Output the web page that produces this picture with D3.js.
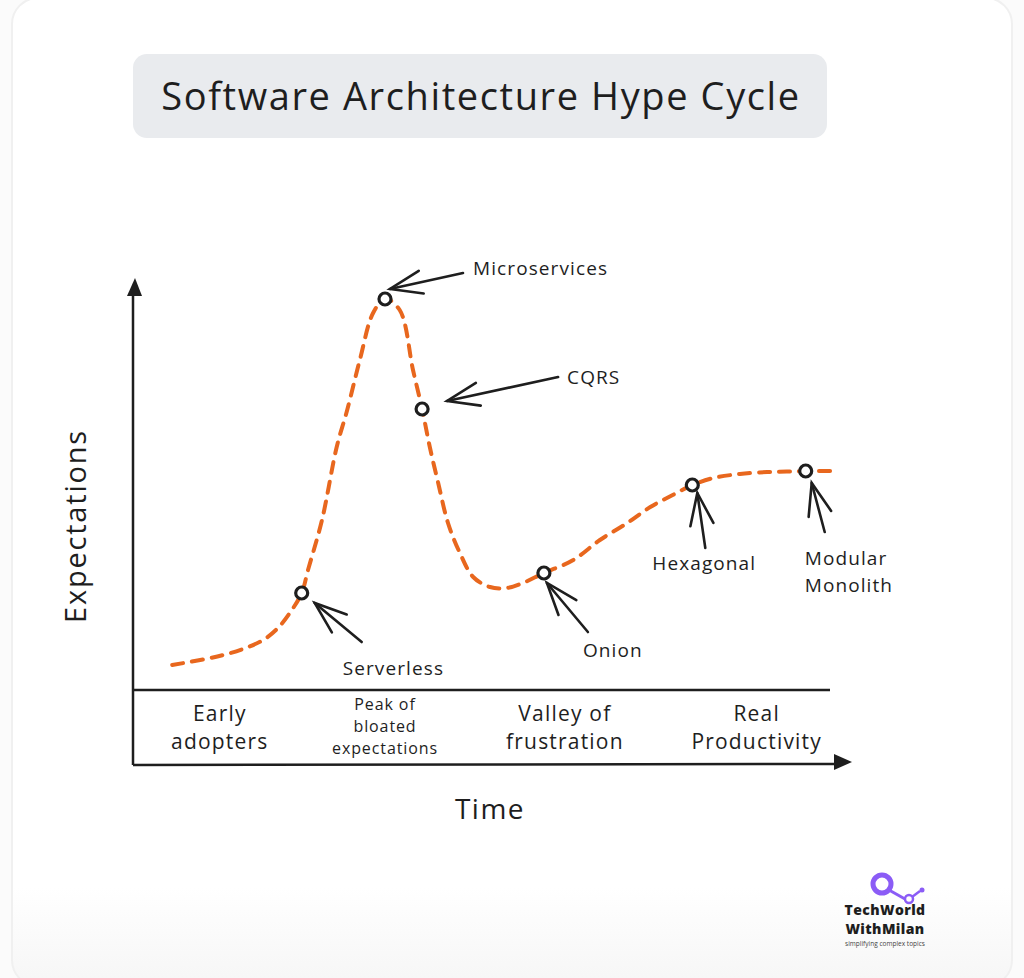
<!DOCTYPE html>
<html>
<head>
<meta charset="utf-8">
<script src="https://cdn.jsdelivr.net/npm/d3@7"></script>
<style>
  html, body { margin: 0; padding: 0; background: #fbfbfb; }
  svg { display: block; }
  text { font-family: "Open Sans", "Noto Sans", sans-serif; fill: #1e1e1e; }
</style>
</head>
<body>
<svg id="chart" width="1024" height="978"></svg>
<script>
// ---------------- data ----------------
const chartTitle = "Software Architecture Hype Cycle";
const xAxisTitle = "Time";
const yAxisTitle = "Expectations";

// hype curve (time 0..100, expectations 0..100)
const curveTime = [5.6, 9.6, 12.9, 15.7, 18.6, 20.7, 22.4, 24.1, 25, 27, 29.1, 30.6, 32.4, 34.3, 36,
  38.1, 40, 41.3, 42.4, 43.6, 45, 46.7, 48.6, 51, 53.4, 55.7, 58.7, 62.9, 66.7, 70.6, 73.9, 77.1,
  79.9, 82.9, 86.7, 90.6, 93.4, 96.1, 99.9];
const curveExpect = [6.25, 7.5, 8.75, 10.25, 12.5, 15.5, 19.25, 24.25, 30, 42.5, 60.75, 70, 82.5, 94.25, 97.75,
  95, 80, 70.25, 60.75, 51.75, 41.75, 34.25, 28.25, 25.75, 25.5, 26.75, 29.25, 32.5, 37.5, 41.75, 45.75, 48.75,
  51.25, 53, 54, 54.5, 54.6, 54.75, 54.75];

// labelled architectures on the curve
const markerLabels = ["Serverless", "Microservices", "CQRS", "Onion", "Hexagonal", "Modular\nMonolith"];
const markerTime   = [24.1, 36, 41.3, 58.7, 79.9, 96.1];
const markerExpect = [24.25, 97.75, 70.25, 29.25, 51.25, 54.75];

// phases along the time axis
const phaseLabels = ["Early\nadopters", "Peak of\nbloated\nexpectations", "Valley of\nfrustration", "Real\nProductivity"];
const phaseCenters = [12.4, 36, 61.7, 89.1];

// ---------------- layout ----------------
const svg = d3.select("#chart");
const W = 1024, H = 978;
const plot = { left: 133, right: 833, top: 290, bandTop: 690, bottom: 765 };

const x = d3.scaleLinear().domain([0, 100]).range([plot.left, plot.right]);
const y = d3.scaleLinear().domain([0, 100]).range([plot.bandTop, plot.top]);

// annotation geometry relative to each marker (pixels): tip, tail, label anchor
const annot = [
  { tip: [13, 10], tail: [60, 49], label: [41, 82] },
  { tip: [5, -10], tail: [78, -26], label: [88, -24] },
  { tip: [25, -8], tail: [136, -32], label: [145, -25] },
  { tip: [3, 10], tail: [44, 59], label: [39, 84] },
  { tip: [5, 8], tail: [13, 63], label: [-40, 85] },
  { tip: [6, 12], tail: [19, 61], label: [-1, 94] }
];

// ---------------- background card ----------------
const defs = svg.append("defs");
const grad = defs.append("linearGradient").attr("id", "cardGrad").attr("x1", 0).attr("y1", 0).attr("x2", 0).attr("y2", 1);
grad.append("stop").attr("offset", "0.9").attr("stop-color", "#ffffff");
grad.append("stop").attr("offset", "1").attr("stop-color", "#f6f6f6");
svg.append("rect").attr("x", 0).attr("y", 0).attr("width", W).attr("height", H).attr("fill", "#fbfbfb");
svg.append("rect").attr("x", 12).attr("y", -2).attr("width", 1000).attr("height", H + 10)
  .attr("rx", 26).attr("fill", "url(#cardGrad)").attr("stroke", "#f0f0f0").attr("stroke-width", 2);

// ---------------- title ----------------
svg.append("rect").attr("x", 133).attr("y", 54).attr("width", 694).attr("height", 84)
  .attr("rx", 14).attr("fill", "#e9ebee");
svg.append("text").attr("x", 481).attr("y", 110).attr("text-anchor", "middle")
  .attr("font-size", 38).attr("letter-spacing", 1.6).text(chartTitle);

// ---------------- axes ----------------
const axisColor = "#1e1e1e";
const axes = svg.append("g").attr("stroke", axisColor).attr("stroke-width", 2.5).attr("fill", "none");
// y axis
axes.append("line").attr("x1", plot.left).attr("y1", plot.bottom).attr("x2", plot.left).attr("y2", 290);
svg.append("path").attr("d", d3.line()([[plot.left + 2, 278], [plot.left - 6, 296], [plot.left + 9, 296]]) + "Z")
  .attr("fill", axisColor);
// x axis
axes.append("line").attr("x1", plot.left).attr("y1", plot.bottom).attr("x2", 840).attr("y2", plot.bottom - 1);
svg.append("path").attr("d", d3.line()([[852, plot.bottom - 3], [834, plot.bottom - 11], [834, plot.bottom + 5]]) + "Z")
  .attr("fill", axisColor);
// phase band line
axes.append("line").attr("x1", plot.left).attr("y1", plot.bandTop).attr("x2", 830).attr("y2", plot.bandTop);

// phase labels
const phaseG = svg.append("g");
phaseLabels.forEach((lab, i) => {
  const lines = lab.split("\n");
  const small = lines.length > 2;
  const fs = small ? 16 : 21;
  const lh = small ? 22 : 28;
  const y0 = small ? 710 : 721;
  const t = phaseG.append("text").attr("text-anchor", "middle").attr("font-size", fs)
    .attr("letter-spacing", small ? 0.9 : 1.2);
  lines.forEach((ln, j) => {
    t.append("tspan").attr("x", x(phaseCenters[i])).attr("y", y0 + j * lh).text(ln);
  });
});

// axis titles
svg.append("text").attr("x", 490).attr("y", 819).attr("text-anchor", "middle")
  .attr("font-size", 28).attr("letter-spacing", 1.5).text(xAxisTitle);
svg.append("text").attr("transform", "translate(86,526) rotate(-90)").attr("text-anchor", "middle")
  .attr("font-size", 29).attr("letter-spacing", 1.8).text(yAxisTitle);

// ---------------- hype curve ----------------
const pts = curveTime.map((t, i) => [x(t), y(curveExpect[i])]);
svg.append("path")
  .attr("d", d3.line().curve(d3.curveCatmullRom.alpha(0.5))(pts))
  .attr("fill", "none").attr("stroke", "#e8671e").attr("stroke-width", 4)
  .attr("stroke-dasharray", "11 9").attr("stroke-linecap", "round");

// ---------------- annotations ----------------
const annG = svg.append("g");
markerLabels.forEach((lab, i) => {
  const mx = x(markerTime[i]), my = y(markerExpect[i]);
  const a = annot[i];
  const tip = [mx + a.tip[0], my + a.tip[1]];
  const tail = [mx + a.tail[0], my + a.tail[1]];
  const ang = Math.atan2(tail[1] - tip[1], tail[0] - tip[0]);
  const hl = 34, spread = 20 * Math.PI / 180;
  const h1 = [tip[0] + hl * Math.cos(ang - spread), tip[1] + hl * Math.sin(ang - spread)];
  const h2 = [tip[0] + hl * Math.cos(ang + spread), tip[1] + hl * Math.sin(ang + spread)];
  const g = annG.append("g").attr("stroke", "#1e1e1e").attr("stroke-width", 2.6)
    .attr("stroke-linecap", "round").attr("fill", "none");
  g.append("path").attr("d", d3.line()([tail, tip]));
  g.append("path").attr("d", d3.line()([h1, tip, h2]));

  const lines = lab.split("\n");
  const t = annG.append("text").attr("font-size", 19).attr("letter-spacing", 1.1);
  lines.forEach((ln, j) => {
    t.append("tspan").attr("x", mx + a.label[0]).attr("y", my + a.label[1] + j * 27).text(ln);
  });
});

// markers
svg.append("g").selectAll("circle").data(markerTime).join("circle")
  .attr("cx", d => x(d)).attr("cy", (d, i) => y(markerExpect[i])).attr("r", 6)
  .attr("fill", "#ffffff").attr("stroke", "#1e1e1e").attr("stroke-width", 3.2);

// ---------------- logo ----------------
const logo = svg.append("g");
logo.append("line").attr("x1", 889).attr("y1", 890).attr("x2", 905).attr("y2", 899)
  .attr("stroke", "#8b5cf6").attr("stroke-width", 3);
logo.append("line").attr("x1", 912).attr("y1", 897).attr("x2", 920).attr("y2", 891)
  .attr("stroke", "#8b5cf6").attr("stroke-width", 2.5);
logo.append("circle").attr("cx", 882).attr("cy", 884).attr("r", 9)
  .attr("fill", "none").attr("stroke", "#8b5cf6").attr("stroke-width", 5);
logo.append("circle").attr("cx", 909).attr("cy", 899).attr("r", 4)
  .attr("fill", "none").attr("stroke", "#8b5cf6").attr("stroke-width", 2.5);
logo.append("circle").attr("cx", 922).attr("cy", 890).attr("r", 2.5)
  .attr("fill", "#8b5cf6");
const logoText = logo.append("text").attr("text-anchor", "middle").attr("fill", "#222");
logoText.append("tspan").attr("x", 885).attr("y", 915)
  .attr("font-size", 14).attr("font-weight", 800).attr("letter-spacing", 0.4).text("TechWorld");
logoText.append("tspan").attr("x", 885).attr("y", 934)
  .attr("font-size", 14).attr("font-weight", 800).attr("letter-spacing", 0.4).text("WithMilan");
logoText.append("tspan").attr("x", 885).attr("y", 946)
  .attr("font-size", 6.5).attr("fill", "#444").text("simplifying complex topics");
</script>
</body>
</html>
